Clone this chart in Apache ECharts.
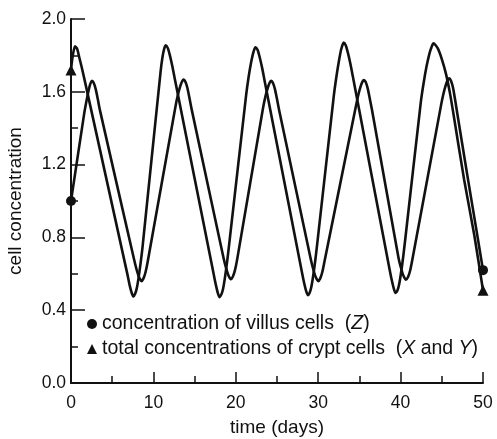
<!DOCTYPE html>
<html>
<head>
<meta charset="utf-8">
<script src="https://cdn.jsdelivr.net/npm/echarts@6/dist/echarts.min.js"></script>
<style>
html,body{margin:0;padding:0;background:#fff;}
#chart{width:497px;height:439px;}
</style>
</head>
<body>
<div id="chart"></div>
<script>
// Total crypt cells (X + Y): time (days) and concentration
var cryptDays = [0, 0.22, 0.49, 0.75, 1.0, 1.3, 1.6, 6.88, 7.13, 7.38, 7.58,
  7.78, 7.98, 8.19, 8.45, 8.7, 10.87, 11.1, 11.3, 11.5,
  11.75, 12.0, 12.3, 12.6, 17.35, 17.6, 17.85, 18.05,
  18.25, 18.45, 18.66, 18.92, 19.17, 21.25, 21.55, 21.85, 22.15, 22.4,
  22.65, 22.9, 23.2, 23.5, 28.05, 28.3, 28.55, 28.75,
  28.95, 29.15, 29.36, 29.62, 29.87, 31.9, 32.2, 32.5, 32.8, 33.1,
  33.35, 33.6, 33.9, 34.2, 38.7, 38.95, 39.2, 39.4,
  39.6, 39.8, 40.01, 40.27, 40.52, 42.46, 42.8, 43.15, 43.5, 43.75, 43.99,
  44.5, 45.0, 45.5, 46.0, 46.5, 47.7, 48.95, 50];
var cryptConc = [1.72, 1.80, 1.85, 1.835, 1.79, 1.735, 1.675, 0.59, 0.535, 0.493, 0.475,
  0.49, 0.52, 0.575, 0.66, 0.755, 1.71, 1.79, 1.835, 1.855,
  1.84, 1.80, 1.74, 1.67, 0.59, 0.535, 0.49, 0.472,
  0.487, 0.517, 0.572, 0.657, 0.752, 1.58, 1.68, 1.76, 1.82, 1.845,
  1.83, 1.79, 1.73, 1.66, 0.603, 0.548, 0.503, 0.483,
  0.495, 0.525, 0.58, 0.665, 0.76, 1.58, 1.68, 1.765, 1.835, 1.87,
  1.855, 1.815, 1.755, 1.685, 0.615, 0.56, 0.515, 0.495,
  0.507, 0.537, 0.592, 0.677, 0.772, 1.546, 1.65, 1.74, 1.81, 1.845, 1.866,
  1.84, 1.78, 1.70, 1.59, 1.455, 1.12, 0.81, 0.51];

// Villus cells (Z): time (days) and concentration
var villusDays = [0, 1.6, 1.9, 2.15, 2.35, 2.55,
  2.75, 3.0, 3.25, 3.53, 7.65, 7.95, 8.25, 8.55,
  8.8, 9.05, 9.3, 12.67, 12.97, 13.27, 13.49, 13.67,
  13.87, 14.12, 14.37, 14.65, 18.5, 18.8, 19.1, 19.4,
  19.65, 19.9, 20.15, 23.3, 23.6, 23.9, 24.12, 24.3,
  24.5, 24.75, 25.0, 25.28, 29.1, 29.4, 29.7, 30.0,
  30.25, 30.5, 30.75, 34.55, 34.85, 35.15, 35.37, 35.55,
  35.75, 36.0, 36.25, 36.53, 39.75, 40.05, 40.35, 40.65,
  40.9, 41.15, 41.4, 44.9, 45.2, 45.5, 45.72, 45.9,
  46.1, 46.35, 46.6, 46.9, 48.14, 49.35, 50];
var villusConc = [1.00, 1.48, 1.555, 1.61, 1.645, 1.66,
  1.65, 1.615, 1.56, 1.495, 0.68, 0.625, 0.582, 0.56,
  0.575, 0.61, 0.665, 1.517, 1.582, 1.632, 1.658, 1.667,
  1.657, 1.622, 1.567, 1.502, 0.69, 0.635, 0.592, 0.57,
  0.585, 0.62, 0.675, 1.51, 1.575, 1.625, 1.651, 1.66,
  1.65, 1.615, 1.56, 1.495, 0.68, 0.625, 0.582, 0.56,
  0.575, 0.61, 0.665, 1.515, 1.58, 1.63, 1.656, 1.665,
  1.655, 1.62, 1.565, 1.50, 0.687, 0.632, 0.589, 0.567,
  0.582, 0.617, 0.672, 1.524, 1.589, 1.639, 1.665, 1.674,
  1.662, 1.625, 1.56, 1.475, 1.13, 0.80, 0.62];

var seriesNames = ['concentration of villus cells  (Z)', 'total concentrations of crypt cells  (X and Y)'];
var legendLabels = ['concentration of villus cells  ({i|Z})', 'total concentrations of crypt cells  ({i|X} and {i|Y})'];
var xLabel = 'time (days)';
var yLabel = 'cell concentration';

var FONT = '"Liberation Sans", Arial, Helvetica, sans-serif';
var INK = '#111';

function build(days, conc, endSymbol, size) {
  var out = [];
  for (var i = 0; i < days.length; i++) {
    var item = { value: [days[i], conc[i]] };
    if (i === 0 || i === days.length - 1) {
      item.symbol = endSymbol;
      item.symbolSize = size;
    }
    out.push(item);
  }
  return out;
}

var chart = echarts.init(document.getElementById('chart'), null, { renderer: 'canvas' });
chart.setOption({
  animation: false,
  backgroundColor: '#fff',
  grid: { left: 71, right: 14, top: 19, bottom: 56, containLabel: false, outerBoundsMode: 'none' },
  legend: {
    orient: 'vertical',
    left: 87,
    top: 314,
    padding: 0,
    itemWidth: 10,
    itemHeight: 10,
    itemGap: 5,
    itemTextGap: 8,
    itemStyle: { color: INK },
    textStyle: {
      fontFamily: FONT, fontSize: 19.5, color: INK,
      rich: { i: { fontFamily: FONT, fontSize: 19.5, fontStyle: 'italic', color: INK } }
    },
    formatter: function (name) { return legendLabels[seriesNames.indexOf(name)]; },
    data: [
      { name: seriesNames[0], icon: 'circle' },
      { name: seriesNames[1], icon: 'triangle' }
    ]
  },
  xAxis: {
    type: 'value', min: 0, max: 50, interval: 10,
    name: xLabel, nameLocation: 'middle', nameGap: 35,
    nameTextStyle: { fontFamily: FONT, fontSize: 19, color: INK },
    axisLine: { show: true, lineStyle: { color: INK, width: 2 } },
    axisTick: { show: true, inside: true, length: 11, lineStyle: { color: INK, width: 1.5 } },
    minorTick: { show: true, splitNumber: 2, length: 7, lineStyle: { color: INK, width: 1.5 } },
    axisLabel: { fontFamily: FONT, fontSize: 17.5, color: INK, margin: 11 },
    splitLine: { show: false }
  },
  yAxis: {
    type: 'value', min: 0, max: 2, interval: 0.4,
    name: yLabel, nameLocation: 'middle', nameGap: 46,
    nameTextStyle: { fontFamily: FONT, fontSize: 19, color: INK },
    axisLine: { show: true, lineStyle: { color: INK, width: 2 } },
    axisTick: { show: true, inside: true, length: 14, lineStyle: { color: INK, width: 1.5 } },
    minorTick: { show: true, splitNumber: 2, length: 7, lineStyle: { color: INK, width: 1.5 } },
    axisLabel: { fontFamily: FONT, fontSize: 17.5, color: INK, margin: 5,
      formatter: function (v) { return v.toFixed(1); } },
    splitLine: { show: false }
  },
  series: [
    {
      name: seriesNames[0], type: 'line', smooth: 0.25,
      symbol: 'none', showSymbol: true, clip: false,
      lineStyle: { color: INK, width: 2.6 },
      itemStyle: { color: INK },
      data: build(villusDays, villusConc, 'circle', 10)
    },
    {
      name: seriesNames[1], type: 'line', smooth: 0.25,
      symbol: 'none', showSymbol: true, clip: false,
      lineStyle: { color: INK, width: 2.6 },
      itemStyle: { color: INK },
      data: build(cryptDays, cryptConc, 'triangle', 11)
    }
  ]
});
</script>
</body>
</html>
